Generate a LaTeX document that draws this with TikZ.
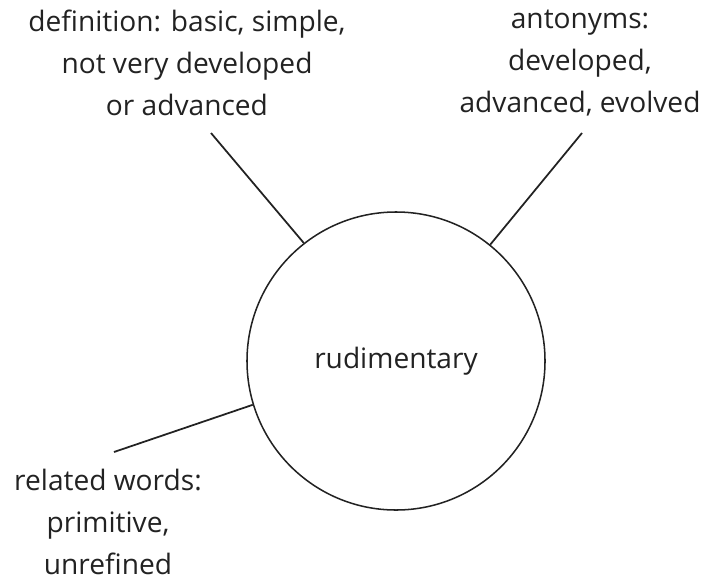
\documentclass[tikz,border=0pt]{standalone}
\usepackage{fontspec}
\setmainfont{Open Sans}
\usepackage{tikz}
\usetikzlibrary{positioning}
\definecolor{MMink}{RGB}{34,34,34}

\begin{document}
\begin{tikzpicture}[
      x=0.03cm,y=-0.03cm,
      note/.style={align=center,font=\fontsize{24pt}{35.9pt}\selectfont,text=MMink,inner sep=0pt},
      hub/.style={draw=MMink,circle,line width=1.3pt,minimum size=8.94cm,inner sep=0pt,font=\fontsize{24pt}{35.9pt}\selectfont,text=MMink},
      link/.style={draw=MMink,line width=1.5pt}
    ]
    \useasboundingbox (0,0) rectangle (707,584);
    \node[hub] (hub) at (396,361) {\raisebox{-4pt}{rudimentary}};
    \node[note] (defn) at (187,63) {definition: basic, simple,\\not very developed\\or advanced};
    \node[note] (anto) at (580,63) {antonyms:\\developed,\\advanced, evolved};
    \node[note] (rel) at (108,522) {related words:\\primitive,\\unrefined};
    \coordinate (defnend) at (211,133);
    \coordinate (antoend) at (582,133);
    \coordinate (relend) at (114,452);
    \draw[link] (defnend)--(hub.128.5);
    \draw[link] (antoend)--(hub.51.5);
    \draw[link] (relend)--(hub.197.5);
  \end{tikzpicture}
\end{document}
